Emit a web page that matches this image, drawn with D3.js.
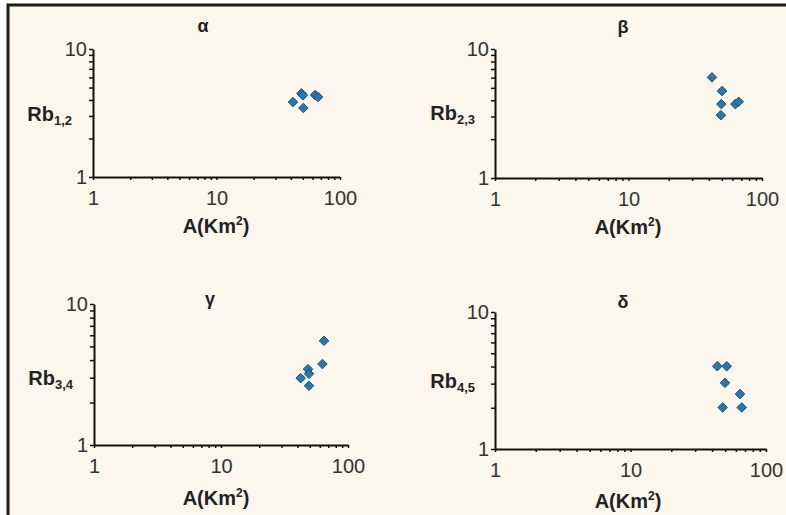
<!DOCTYPE html>
<html>
<head>
<meta charset="utf-8">
<script src="https://cdn.jsdelivr.net/npm/d3@7/dist/d3.min.js"></script>
<style>
  html, body { margin: 0; padding: 0; background: #ffffff; }
  svg { display: block; }
</style>
</head>
<body>
<div id="chart"></div>
<script>
// panel titles and y-label subscripts
const titles = ['α', 'β', 'γ', 'δ']
const subscripts = ['1,2', '2,3', '3,4', '4,5']

// x: basin area A (Km²), y: bifurcation ratio Rb
const areaAlpha = [41.6, 48.7, 50.1, 50.5, 62.8, 66.4]
const rbAlpha = [3.85, 4.5, 4.35, 3.46, 4.37, 4.22]

const areaBeta = [42.2, 50.2, 49.6, 49.2, 63.1, 66.9]
const rbBeta = [6.03, 4.72, 3.74, 3.07, 3.74, 3.9]

const areaGamma = [42.4, 48.4, 49.3, 49.3, 62.9, 64.7]
const rbGamma = [2.98, 3.45, 3.2, 2.63, 3.75, 5.48]

const areaDelta = [43.7, 51.3, 49.8, 64.3, 47.9, 66.2]
const rbDelta = [4.02, 4.02, 3.04, 2.52, 2.01, 2.01]

const xTicks = [1, 2, 3, 4, 5, 6, 7, 8, 9, 10, 20, 30, 40, 50, 60, 70, 80, 90, 100]
const yTicks = [1, 2, 3, 4, 5, 6, 7, 8, 9, 10]
const xLabelled = [1, 10, 100]
const yLabelled = [1, 10]

const width = 786
const height = 515

// panel frames (pixel layout only)
const panels = [
  { x0: 93, x1: 340, yTop: 49, yBot: 177, title: [203, 32], yLab: [72, 121], xLab: [216, 233], area: areaAlpha, rb: rbAlpha },
  { x0: 495, x1: 762, yTop: 49, yBot: 178, title: [623, 33], yLab: [475, 120], xLab: [628, 234], area: areaBeta, rb: rbBeta },
  { x0: 94, x1: 348, yTop: 304, yBot: 445, title: [210, 305], yLab: [73, 385], xLab: [216, 505], area: areaGamma, rb: rbGamma },
  { x0: 495, x1: 766, yTop: 312, yBot: 449, title: [623, 308], yLab: [475, 388], xLab: [628, 508], area: areaDelta, rb: rbDelta }
]

const FONT = "'Liberation Sans', Arial, sans-serif"
const markFill = '#2a78ab'
const markStroke = '#1b4e73'

const svg = d3.select('#chart')
  .append('svg')
  .attr('width', width)
  .attr('height', height)

// frame
svg.append('rect')
  .attr('x', 8)
  .attr('y', 5)
  .attr('width', width)
  .attr('height', height)
  .attr('fill', '#fbf7ec')
  .attr('stroke', '#1f1b16')
  .attr('stroke-width', 3)

const diamond = d3.symbol().type(d3.symbolDiamond2).size(58)

panels.forEach((p, i) => {
  const x = d3.scaleLog().domain([1, 100]).range([p.x0, p.x1])
  const y = d3.scaleLog().domain([1, 10]).range([p.yBot, p.yTop])

  // x axis
  const xAxis = d3.axisBottom(x)
    .tickValues(xTicks)
    .tickSize(3)
    .tickSizeOuter(0)
    .tickPadding(11)
    .tickFormat(d => xLabelled.includes(d) ? d : '')
  const gx = svg.append('g')
    .attr('transform', `translate(0,${p.yBot})`)
    .call(xAxis)
  gx.select('.domain').attr('stroke', '#111').attr('stroke-width', 2)
  gx.selectAll('.tick line').attr('stroke', '#111').attr('stroke-width', 1.5)
  gx.selectAll('.tick text')
    .attr('font-family', FONT)
    .attr('font-size', 20)
    .attr('fill', '#333')

  // y axis
  const yAxis = d3.axisLeft(y)
    .tickValues(yTicks)
    .tickSize(4)
    .tickSizeOuter(0)
    .tickPadding(2)
    .tickFormat(d => yLabelled.includes(d) ? d : '')
  const gy = svg.append('g')
    .attr('transform', `translate(${p.x0},0)`)
    .call(yAxis)
  gy.select('.domain').attr('stroke', '#111').attr('stroke-width', 2)
  gy.selectAll('.tick line').attr('stroke', '#111').attr('stroke-width', 1.5)
  gy.selectAll('.tick text')
    .attr('font-family', FONT)
    .attr('font-size', 20)
    .attr('fill', '#333')

  // points
  svg.append('g')
    .selectAll('path')
    .data(p.area.map((a, k) => ({ a, r: p.rb[k] })))
    .join('path')
    .attr('d', diamond)
    .attr('transform', d => `translate(${x(d.a)},${y(d.r)})`)
    .attr('fill', markFill)
    .attr('stroke', markStroke)
    .attr('stroke-width', 1)

  // title
  svg.append('text')
    .attr('x', p.title[0])
    .attr('y', p.title[1])
    .attr('text-anchor', 'middle')
    .attr('font-family', FONT)
    .attr('font-size', 18)
    .attr('font-weight', 'bold')
    .attr('fill', '#222')
    .text(titles[i])

  // y label  Rb with subscript
  const yl = svg.append('text')
    .attr('x', p.yLab[0])
    .attr('y', p.yLab[1])
    .attr('text-anchor', 'end')
    .attr('font-family', FONT)
    .attr('font-size', 20)
    .attr('font-weight', 'bold')
    .attr('fill', '#222')
  yl.append('tspan').text('Rb')
  yl.append('tspan').attr('font-size', 13).attr('dy', 4).text(subscripts[i])

  // x label  A(Km²)
  const xl = svg.append('text')
    .attr('x', p.xLab[0])
    .attr('y', p.xLab[1])
    .attr('text-anchor', 'middle')
    .attr('font-family', FONT)
    .attr('font-size', 20)
    .attr('font-weight', 'bold')
    .attr('fill', '#222')
  xl.append('tspan').text('A(Km')
  xl.append('tspan').attr('font-size', 12).attr('dy', -8).text('2')
  xl.append('tspan').attr('dy', 8).text(')')
})
</script>
</body>
</html>
